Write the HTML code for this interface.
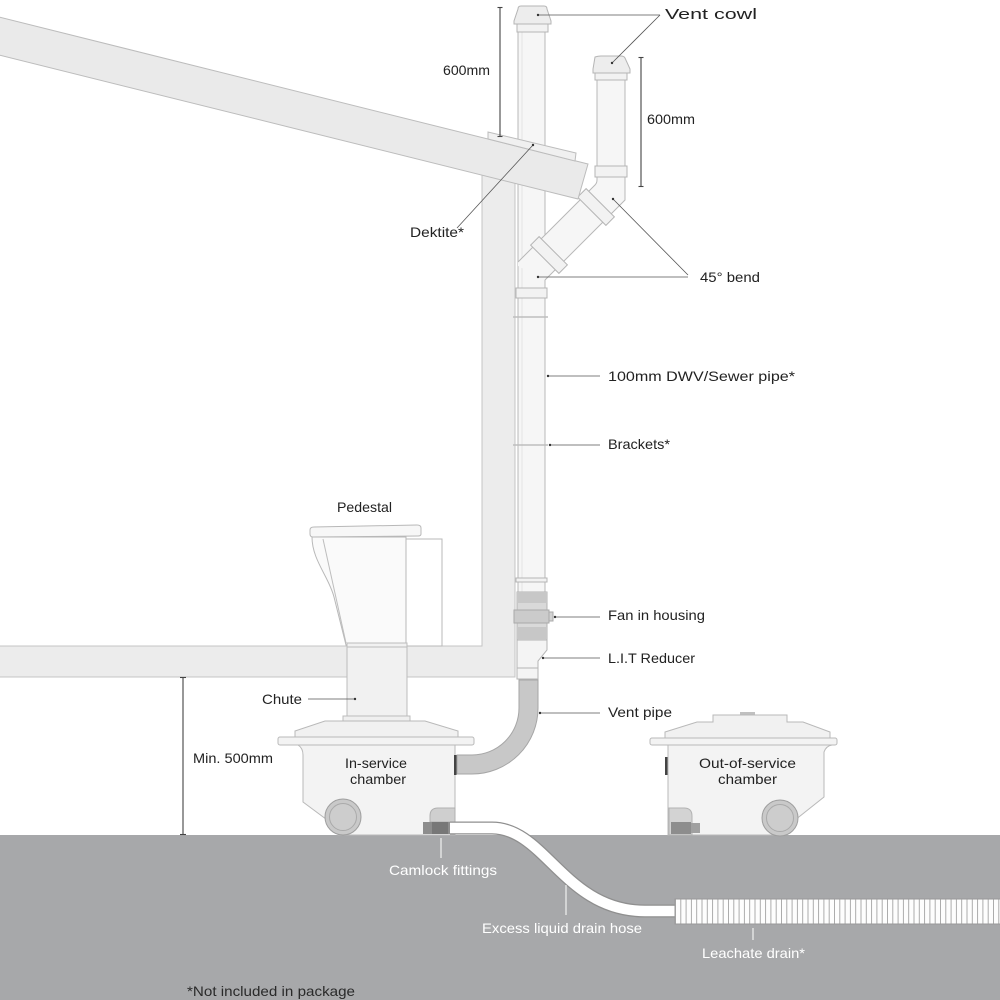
<!DOCTYPE html>
<html><head><meta charset="utf-8"><style>
html,body{margin:0;padding:0;background:#fff;}
svg{display:block;}
text{font-family:"Liberation Sans",sans-serif;font-size:14px;fill:#222;}
.w{fill:#fff;}
</style></head><body>
<svg width="1000" height="1000" viewBox="0 0 1000 1000" xmlns="http://www.w3.org/2000/svg">
<defs>
<pattern id="rib" x="675" y="899" width="5.3" height="30" patternUnits="userSpaceOnUse">
<rect x="0" y="0" width="5.3" height="30" fill="#fdfdfd"/>
<line x1="0.5" y1="0" x2="0.5" y2="30" stroke="#a3a3a3" stroke-width="0.9"/>
</pattern>
</defs>
<rect width="1000" height="1000" fill="#fff"/>

<!-- ground -->
<rect x="0" y="835" width="1000" height="165" fill="#a7a8aa"/>

<!-- wall + floor -->
<polygon points="-2,646 482,646 482,170 515,178 515,677 -2,677" fill="#ececec" stroke="#c4c4c4" stroke-width="1"/>

<!-- main vertical pipe -->
<rect x="518" y="32" width="27" height="560" fill="#f6f6f6" stroke="#b8b8b8" stroke-width="1"/>
<line x1="522" y1="32" x2="522" y2="592" stroke="#e4e4e4" stroke-width="1"/>
<!-- main cowl -->
<path d="M521,6 Q518,6 518,9 L514,21 L514,24 L551,24 L551,21 L547,9 Q547,6 544,6 Z" fill="#ededed" stroke="#b5b5b5"/>
<rect x="517" y="24" width="31" height="8" fill="#f2f2f2" stroke="#b5b5b5"/>

<!-- offset pipe with 45 bend -->
<path d="M597,80 L597,180 Q597,183 595,185 L518,262 L518,266 L545,280 L625,200 L625,80 Z" fill="#f6f6f6"/>
<path d="M597,80 L597,180 Q597,183 595,185 L518,262" fill="none" stroke="#b8b8b8"/>
<path d="M625,80 L625,200 L545,280" fill="none" stroke="#b8b8b8"/>
<path d="M595,57 Q598,56 601,56 L621,56 Q624,56 625,58 L630,69 L630,73 L593,73 L593,69 Z" fill="#ededed" stroke="#b5b5b5"/>
<rect x="595" y="73" width="32" height="7" fill="#f2f2f2" stroke="#b5b5b5"/>
<rect x="595" y="166" width="32" height="11" fill="#f2f2f2" stroke="#b5b5b5"/>
<rect x="-20" y="-6" width="40" height="12" fill="#f2f2f2" stroke="#b5b5b5" transform="translate(596,207) rotate(45)"/>
<rect x="-20" y="-6" width="40" height="12" fill="#f2f2f2" stroke="#b5b5b5" transform="translate(549,255) rotate(45)"/>

<!-- main pipe collars & brackets -->
<rect x="516" y="288" width="31" height="10" fill="#f2f2f2" stroke="#b5b5b5"/>
<line x1="513" y1="317" x2="548" y2="317" stroke="#bdbdbd" stroke-width="1.5"/>
<line x1="513" y1="445" x2="548" y2="445" stroke="#bdbdbd" stroke-width="1.5"/>
<rect x="516" y="578" width="31" height="4" fill="#f2f2f2" stroke="#b5b5b5"/>

<!-- roof -->
<polygon points="-5,16 588,164 578,199 -5,54" fill="#eaeaea" stroke="#bcbcbc" stroke-width="1"/>
<!-- dektite -->
<polygon points="488,139 488,132 576,153 575,161" fill="#f0f0f0" stroke="#bcbcbc" stroke-width="1"/>

<!-- fan housing -->
<rect x="517" y="592" width="30" height="48" fill="#d9d9d9" stroke="#b3b3b3"/>
<rect x="517" y="592" width="30" height="11" fill="#c7c7c7"/>
<rect x="514" y="610" width="35" height="13" fill="#cbcbcb" stroke="#a9a9a9"/>
<rect x="549" y="612" width="4" height="9" fill="#d3d3d3" stroke="#a9a9a9"/>
<rect x="517" y="627" width="30" height="12" fill="#c7c7c7"/>
<!-- reducer -->
<path d="M517,640 L547,640 L547,650 L538,661 L538,679 L517,679 Z" fill="#f4f4f4" stroke="#b5b5b5"/>
<line x1="517" y1="668" x2="538" y2="668" stroke="#b5b5b5"/>

<!-- vent pipe -->
<path d="M519,680 L538,680 L538,708 A66,66 0 0 1 472,774 L457,774 L457,755 L472,755 A47,47 0 0 0 519,708 Z" fill="#c8c8c8" stroke="#a6a6a6"/>

<!-- pedestal -->
<rect x="406" y="539" width="36" height="107" fill="#fff" stroke="#b8b8b8"/>
<path d="M312,537 C312,560 329,577 334,597 L346,645 L406,645 L406,537 Z" fill="#fafafa" stroke="#b8b8b8"/>
<line x1="323" y1="539" x2="346" y2="643" stroke="#bdbdbd"/>
<path d="M314,527 L417,525 Q421,525 421,528 L421,534 Q421,536 418,536 L313,537 Q310,537 310,534 L310,530 Q310,527 314,527 Z" fill="#f7f7f7" stroke="#b8b8b8"/>
<!-- chute -->
<rect x="347" y="643" width="60" height="74" fill="#f1f1f1" stroke="#bcbcbc"/>
<line x1="347" y1="647" x2="407" y2="647" stroke="#bcbcbc"/>
<rect x="343" y="716" width="67" height="5" fill="#efefef" stroke="#bcbcbc"/>

<!-- in-service chamber -->
<polygon points="295,731 325,721 425,721 458,731 458,737 295,737" fill="#f1f1f1" stroke="#b9b9b9"/>
<rect x="278" y="737" width="196" height="8" rx="2" fill="#f3f3f3" stroke="#b9b9b9"/>
<path d="M298,745 Q303,748 303,755 L303,802 L338,828 L338,835 L455,835 L455,745 Z" fill="#f3f3f3" stroke="#b9b9b9"/>
<rect x="454" y="755" width="2.5" height="20" fill="#444"/>
<circle cx="343" cy="817" r="18" fill="#c9c9c9" stroke="#9e9e9e"/>
<circle cx="343" cy="817" r="13.5" fill="#cdcdcd" stroke="#aaaaaa"/>
<path d="M430,822 L430,816 Q430,808 438,808 L455,808 L455,822 Z" fill="#cfcfcf" stroke="#b0b0b0"/>
<rect x="423" y="822" width="28" height="12" fill="#8d8d8d"/>
<rect x="432" y="822" width="16" height="12" fill="#777"/>

<!-- out-of-service chamber -->
<rect x="740" y="712" width="15" height="4" fill="#c0c0c0"/>
<polygon points="665,732 697,722 713,722 713,715 787,715 787,722 803,722 830,732 830,738 665,738" fill="#f1f1f1" stroke="#b9b9b9"/>
<rect x="650" y="738" width="187" height="7" rx="2" fill="#f3f3f3" stroke="#b9b9b9"/>
<path d="M668,745 L668,835 L785,835 L785,828 L824,797 L824,752 Q826,746 832,745 Z" fill="#f3f3f3" stroke="#b9b9b9"/>
<rect x="665" y="757" width="2.5" height="18" fill="#444"/>
<circle cx="780" cy="818" r="18" fill="#c9c9c9" stroke="#9e9e9e"/>
<circle cx="780" cy="818" r="13.5" fill="#cdcdcd" stroke="#aaaaaa"/>
<path d="M669,835 L669,808 L684,808 Q692,808 692,816 L692,835 Z" fill="#d3d3d3" stroke="#b3b3b3"/>
<rect x="671" y="822" width="20" height="12" fill="#8d8d8d"/>
<rect x="691" y="823" width="9" height="10" fill="#a0a0a0"/>

<!-- drain hose -->
<path d="M450,828 L492,828 C545,828 565,911 645,911 L678,911" fill="none" stroke="#8f8f8f" stroke-width="13"/>
<path d="M450,828 L492,828 C545,828 565,911 645,911 L678,911" fill="none" stroke="#fff" stroke-width="10.5"/>
<!-- leachate drain -->
<rect x="675" y="899" width="330" height="25" fill="url(#rib)" stroke="#999"/>

<!-- dimension lines -->
<g stroke="#444" stroke-width="1.1">
<line x1="183" y1="677" x2="183" y2="835"/>
<line x1="180" y1="677.5" x2="186" y2="677.5"/>
<line x1="180" y1="834.5" x2="186" y2="834.5"/>
<line x1="500" y1="7" x2="500" y2="137"/>
<line x1="497.5" y1="7.5" x2="502.5" y2="7.5"/>
<line x1="497.5" y1="136.5" x2="502.5" y2="136.5"/>
<line x1="641" y1="57" x2="641" y2="187"/>
<line x1="638.5" y1="57.5" x2="643.5" y2="57.5"/>
<line x1="638.5" y1="186.5" x2="643.5" y2="186.5"/>
</g>

<!-- leader lines -->
<g stroke="#555" stroke-width="0.8" fill="none">
<line x1="538" y1="15" x2="660" y2="15"/>
<line x1="660" y1="15" x2="612" y2="63"/>
<line x1="533" y1="145" x2="457" y2="228"/>
<line x1="538" y1="277" x2="688" y2="277"/>
<line x1="613" y1="199" x2="688" y2="275"/>
<line x1="548" y1="376" x2="600" y2="376"/>
<line x1="550" y1="445" x2="600" y2="445"/>
<line x1="555" y1="617" x2="600" y2="617"/>
<line x1="543" y1="658" x2="600" y2="658"/>
<line x1="540" y1="713" x2="600" y2="713"/>
<line x1="308" y1="699" x2="355" y2="699"/>
</g>
<g fill="#333">
<circle cx="538" cy="15" r="1.2"/><circle cx="612" cy="63" r="1.2"/>
<circle cx="533" cy="145" r="1.2"/><circle cx="538" cy="277" r="1.2"/>
<circle cx="613" cy="199" r="1.2"/><circle cx="548" cy="376" r="1.2"/>
<circle cx="550" cy="445" r="1.2"/><circle cx="555" cy="617" r="1.2"/>
<circle cx="543" cy="658" r="1.2"/><circle cx="540" cy="713" r="1.2"/>
<circle cx="355" cy="699" r="1.2"/>
</g>
<g stroke="#fff" stroke-width="1">
<line x1="441" y1="838" x2="441" y2="858"/>
<line x1="566" y1="885" x2="566" y2="915"/>
<line x1="753" y1="928" x2="753" y2="940"/>
</g>

<!-- labels -->
<text x="665" y="19" textLength="92" lengthAdjust="spacingAndGlyphs" style="font-size:15px">Vent cowl</text>
<text x="443" y="75" textLength="47" lengthAdjust="spacingAndGlyphs">600mm</text>
<text x="647" y="124" textLength="48" lengthAdjust="spacingAndGlyphs">600mm</text>
<text x="410" y="237" textLength="54" lengthAdjust="spacingAndGlyphs">Dektite*</text>
<text x="700" y="282" textLength="60" lengthAdjust="spacingAndGlyphs">45° bend</text>
<text x="608" y="381" textLength="187" lengthAdjust="spacingAndGlyphs">100mm DWV/Sewer pipe*</text>
<text x="608" y="449" textLength="62" lengthAdjust="spacingAndGlyphs">Brackets*</text>
<text x="337" y="512" textLength="55" lengthAdjust="spacingAndGlyphs">Pedestal</text>
<text x="608" y="620" textLength="97" lengthAdjust="spacingAndGlyphs">Fan in housing</text>
<text x="608" y="663" textLength="87" lengthAdjust="spacingAndGlyphs">L.I.T Reducer</text>
<text x="608" y="717" textLength="64" lengthAdjust="spacingAndGlyphs">Vent pipe</text>
<text x="262" y="704" textLength="40" lengthAdjust="spacingAndGlyphs">Chute</text>
<text x="193" y="763" textLength="80" lengthAdjust="spacingAndGlyphs">Min. 500mm</text>
<text x="345" y="768" textLength="62" lengthAdjust="spacingAndGlyphs">In-service</text>
<text x="350" y="784" textLength="56" lengthAdjust="spacingAndGlyphs">chamber</text>
<text x="699" y="768" textLength="97" lengthAdjust="spacingAndGlyphs">Out-of-service</text>
<text x="718" y="784" textLength="59" lengthAdjust="spacingAndGlyphs">chamber</text>
<text class="w" x="389" y="875" textLength="108" lengthAdjust="spacingAndGlyphs">Camlock fittings</text>
<text class="w" x="482" y="933" textLength="160" lengthAdjust="spacingAndGlyphs">Excess liquid drain hose</text>
<text class="w" x="702" y="958" textLength="103" lengthAdjust="spacingAndGlyphs">Leachate drain*</text>
<text x="187" y="996" textLength="168" lengthAdjust="spacingAndGlyphs" style="fill:#2a2a2a">*Not included in package</text>
</svg>
</body></html>
